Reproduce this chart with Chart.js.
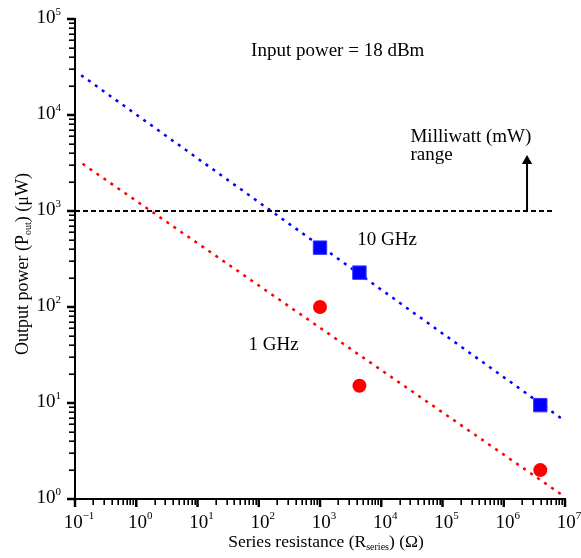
<!DOCTYPE html>
<html>
<head>
<meta charset="utf-8">
<script src="https://cdn.jsdelivr.net/npm/chart.js@4.4.1/dist/chart.umd.min.js"></script>
<style>
  html, body { margin: 0; padding: 0; background: #fff; }
  #wrap { width: 581px; height: 558px; }
</style>
</head>
<body>
<div id="wrap"><canvas id="chart" width="581" height="558"></canvas></div>
<script>
/* ---------- data ---------- */
const xTickExp = [-1, 0, 1, 2, 3, 4, 5, 6, 7];
const yTickExp = [0, 1, 2, 3, 4, 5];

const rSeries    = [1000, 4400, 3.95e6];       // Ω
const pout10GHz  = [415, 228, 9.5];            // µW
const pout1GHz   = [100, 15.1, 2.0];           // µW

const fit10X = [0.126, 1e7];  const fit10Y = [26000, 6.5];
const fit1X  = [0.133, 1e7];  const fit1Y  = [3100, 1.05];

const mwLineX = [0.1, 6.3e6]; const mwLineY = [1000, 1000];
const arrowX  = [2.4e6, 2.4e6]; const arrowY = [1000, 3200];
const arrowHeadY = [3320];

const noteText = ['Input power = 18 dBm', 'Milliwatt (mW)', 'range', '10 GHz', '1 GHz'];
const noteX    = [75, 30000, 30000, 4070, 68];
const noteY    = [41000, 5270, 3400, 442, 35.6];

/* ---------- helpers ---------- */
const SERIF = '"Liberation Serif", "Times New Roman", serif';
const pts = (xs, ys) => xs.map((x, i) => ({ x, y: ys[i] }));

function richWidth(ctx, parts) {
  let w = 0;
  parts.forEach(p => { ctx.font = p.size + 'px ' + SERIF; w += ctx.measureText(p.t).width; });
  return w;
}
function drawRich(ctx, parts, x, y) {
  let cx = x;
  parts.forEach(p => {
    ctx.font = p.size + 'px ' + SERIF;
    ctx.fillText(p.t, cx, y + (p.dy || 0));
    cx += ctx.measureText(p.t).width;
  });
}
const supText = (e) => (e < 0 ? '\u2212' + (-e) : String(e));

/* ---------- axes decoration: ticks, labels, titles, notes ---------- */
const decoPlugin = {
  id: 'deco',
  afterDraw(chart) {
    const { ctx, chartArea: a } = chart;
    const xs = chart.scales.x, ys = chart.scales.y;
    ctx.save();
    ctx.strokeStyle = '#000';
    ctx.fillStyle = '#000';
    ctx.textAlign = 'left';
    ctx.textBaseline = 'alphabetic';

    // x ticks
    xTickExp.forEach((e, i) => {
      const px = xs.getPixelForValue(Math.pow(10, e));
      ctx.lineWidth = 2.5;
      ctx.beginPath(); ctx.moveTo(px, a.bottom); ctx.lineTo(px, a.bottom + 8); ctx.stroke();
      if (i < xTickExp.length - 1) {
        ctx.lineWidth = 1.6;
        for (let m = 2; m <= 9; m++) {
          const q = Math.round(xs.getPixelForValue(m * Math.pow(10, e))) + 0.2;
          ctx.beginPath(); ctx.moveTo(q, a.bottom); ctx.lineTo(q, a.bottom + 6); ctx.stroke();
        }
      }
      const parts = [{ t: '10', size: 19 }, { t: supText(e), size: 11, dy: -9 }];
      const w = richWidth(ctx, parts);
      drawRich(ctx, parts, px + 4 - w / 2, a.bottom + 29);
    });

    // y ticks
    yTickExp.forEach((e, i) => {
      const py = ys.getPixelForValue(Math.pow(10, e));
      ctx.lineWidth = 2.5;
      ctx.beginPath(); ctx.moveTo(a.left - 8, py); ctx.lineTo(a.left, py); ctx.stroke();
      if (i < yTickExp.length - 1) {
        ctx.lineWidth = 1.6;
        for (let m = 2; m <= 9; m++) {
          const q = Math.round(ys.getPixelForValue(m * Math.pow(10, e))) + 0.2;
          ctx.beginPath(); ctx.moveTo(a.left - 6, q); ctx.lineTo(a.left, q); ctx.stroke();
        }
      }
      const parts = [{ t: '10', size: 19 }, { t: supText(e), size: 11, dy: -8 }];
      const w = richWidth(ctx, parts);
      drawRich(ctx, parts, a.left - 14 - w, py + 4);
    });

    // axis titles
    const xTitle = [
      { t: 'Series resistance (R', size: 17.5 },
      { t: 'series', size: 10, dy: 3 },
      { t: ') (\u03A9)', size: 17.5 }
    ];
    const xw = richWidth(ctx, xTitle);
    drawRich(ctx, xTitle, 326 - xw / 2, a.bottom + 48);

    const yTitle = [
      { t: 'Output power (P', size: 18 },
      { t: 'out', size: 10, dy: 3 },
      { t: ') (\u03BCW)', size: 18 }
    ];
    const yw = richWidth(ctx, yTitle);
    ctx.save();
    ctx.translate(28, 264);
    ctx.rotate(-Math.PI / 2);
    drawRich(ctx, yTitle, -yw / 2, 0);
    ctx.restore();

    // notes
    ctx.font = '19px ' + SERIF;
    noteText.forEach((t, i) => {
      ctx.fillText(t, xs.getPixelForValue(noteX[i]), ys.getPixelForValue(noteY[i]));
    });
    ctx.restore();
  }
};

/* ---------- chart ---------- */
const scaleBase = {
  type: 'logarithmic',
  grid: { display: false, drawTicks: false },
  border: { display: true, color: '#000', width: 2 },
  ticks: { display: false },
  title: { display: false }
};

new Chart(document.getElementById('chart'), {
  type: 'scatter',
  data: {
    datasets: [
      {
        label: '10 GHz', data: pts(rSeries, pout10GHz),
        pointStyle: 'rect', pointRadius: 9.5, backgroundColor: '#0000ff',
        borderColor: '#3a3aff', borderWidth: 1
      },
      {
        label: '1 GHz', data: pts(rSeries, pout1GHz),
        pointStyle: 'circle', pointRadius: 7, backgroundColor: '#ff0000',
        borderColor: '#ff0000', borderWidth: 0
      },
      {
        label: 'arrow head', data: pts([arrowX[0]], arrowHeadY),
        pointStyle: 'triangle', pointRadius: 6, backgroundColor: '#000',
        borderColor: '#000', borderWidth: 0
      },
      {
        label: 'arrow', data: pts(arrowX, arrowY), showLine: true,
        borderColor: '#000', borderWidth: 2, pointRadius: 0
      },
      {
        label: 'mW limit', data: pts(mwLineX, mwLineY), showLine: true,
        borderColor: '#000', borderWidth: 2, borderDash: [5, 3], pointRadius: 0
      },
      {
        label: 'fit 10 GHz', data: pts(fit10X, fit10Y), showLine: true,
        borderColor: '#0000ff', borderWidth: 2.5, borderDash: [3, 5.5], pointRadius: 0
      },
      {
        label: 'fit 1 GHz', data: pts(fit1X, fit1Y), showLine: true,
        borderColor: '#ff0000', borderWidth: 2.5, borderDash: [3, 5.5], pointRadius: 0
      }
    ]
  },
  options: {
    responsive: false,
    animation: false,
    layout: { padding: { left: 75, right: 16, top: 19, bottom: 59 } },
    plugins: { legend: { display: false }, tooltip: { enabled: false } },
    scales: {
      x: { ...scaleBase, min: 0.1, max: 1e7 },
      y: { ...scaleBase, min: 1, max: 1e5 }
    }
  },
  plugins: [decoPlugin]
});
</script>
</body>
</html>
